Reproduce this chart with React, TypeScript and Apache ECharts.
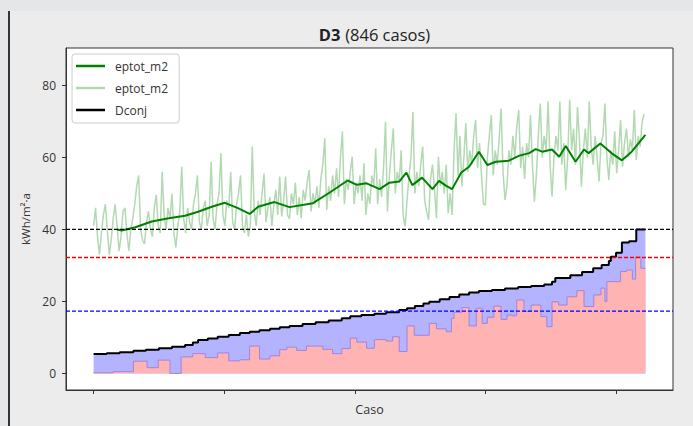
import React, { useEffect, useRef } from "react";
import * as echarts from "echarts";

// Lower bound of the stacked fill (red area top), step "post"
const redCases = [0, 30, 61, 82, 99, 117, 134, 152, 171, 190, 207, 224, 239, 254, 270, 285, 296, 311, 326, 351, 366, 380, 393, 403, 418, 430, 448, 458, 468, 480, 491, 514, 525, 540, 548, 552, 564, 575, 586, 595, 603, 613, 624, 633, 641, 648, 659, 670, 685, 694, 702, 712, 725, 740, 751, 766, 777, 783, 786, 807, 816, 825, 830, 838, 845];
const redVals = [0.2, 0.5, 3.4, 1.6, 3.7, 0, 4.6, 5.5, 4.4, 5.7, 3.5, 3.8, 7.6, 4.0, 4.9, 6.6, 7.3, 6.4, 7.6, 6.7, 5.5, 6.9, 9.8, 8.7, 7.0, 9.4, 9.0, 10.2, 6.1, 13.2, 10.6, 13.9, 12.4, 11.6, 15.3, 17.0, 18.3, 13.2, 18.1, 13.9, 15.6, 18.7, 15.0, 16.2, 16.0, 20.4, 17.2, 19.0, 15.8, 13.0, 19.9, 19.0, 21.3, 23.0, 18.6, 21.8, 23.7, 20.0, 25.5, 28.3, 28.7, 26.2, 32.4, 29.2, 29.2];

// Dconj step line
const conjCases = [0, 20, 40, 61, 80, 100, 120, 140, 152, 160, 175, 190, 207, 224, 239, 254, 270, 285, 300, 320, 340, 360, 380, 393, 410, 430, 448, 468, 480, 492, 505, 514, 530, 545, 560, 575, 590, 610, 630, 650, 670, 690, 702, 707, 730, 748, 765, 778, 789, 792, 800, 809, 820, 831, 845];
const conjVals = [5.4, 5.6, 5.9, 6.3, 6.6, 7.0, 7.4, 7.9, 8.6, 9.3, 9.7, 10.2, 10.7, 11.2, 11.6, 12.0, 12.4, 12.8, 13.2, 13.7, 14.2, 14.7, 15.3, 15.9, 16.2, 16.6, 17.0, 17.6, 18.1, 18.7, 19.4, 19.9, 20.6, 21.2, 21.9, 22.5, 22.9, 23.2, 23.6, 24.0, 24.3, 24.7, 25.5, 26.5, 27.3, 28.2, 29.2, 30.1, 31.2, 32.4, 33.5, 36.4, 36.7, 40.0, 40.0];

// eptot_m2 moving average
const avgCases = [36, 43, 64, 89, 115, 140, 160, 181, 201, 221, 239, 252, 277, 300, 336, 361, 389, 403, 418, 438, 453, 468, 479, 488, 503, 519, 529, 540, 549, 563, 575, 590, 603, 616, 636, 652, 667, 677, 687, 702, 713, 723, 738, 751, 758, 776, 793, 809, 824, 845];
const avgVals = [40.0, 39.7, 40.6, 42.2, 43.1, 43.8, 44.9, 46.3, 47.4, 45.9, 44.3, 46.3, 47.6, 46.2, 47.3, 50.2, 53.6, 52.4, 52.8, 51.2, 53.0, 53.3, 55.8, 52.3, 54.4, 51.2, 53.5, 52.1, 51.2, 55.8, 57.4, 61.6, 57.9, 58.8, 59.1, 60.5, 61.2, 62.3, 61.6, 62.2, 60.2, 63.2, 58.8, 62.2, 61.2, 63.9, 61.2, 59.2, 61.6, 66.3];

// eptot_m2 raw values, sampled every 3 cases
const rawStep = 3;
const rawVals = [
  41, 46, 38, 33, 39, 44, 47, 40, 33, 37, 43, 47, 41, 34, 38, 45, 46, 39, 34, 40,
  43, 47, 52, 55, 40, 37, 36, 42, 45, 40, 38, 46, 49.6, 41, 39, 56, 44, 40, 46, 43,
  50, 39, 35, 41, 45, 57.4, 43, 39, 46, 42, 40, 47, 50, 55, 42, 40, 46, 48, 41, 44,
  58.8, 43, 40, 47, 50, 61.2, 44, 41, 48, 46, 56, 42, 40, 47, 50, 55, 41, 39, 44, 38,
  41, 63, 45, 41, 48, 44, 50, 55.6, 42, 46, 49, 41, 47, 51, 44, 54.7, 43.6, 48, 54.7, 44,
  43, 50, 47, 53, 44, 49, 43.1, 51, 48, 53, 56.5, 45, 50, 47, 52, 46, 54, 58, 65.3, 45.4,
  52, 48, 55, 50, 57, 49, 60, 67.2, 47, 54, 51, 56, 60.2, 47, 53, 50, 55, 48, 58.4, 44,
  50, 47, 55, 52, 62.5, 47, 54, 49, 57, 69.9, 45, 55, 62, 68.1, 50, 56, 53, 62, 44, 40.8,
  48, 55, 60, 72.7, 50, 56, 52, 58, 63, 48, 45, 42.6, 54, 58, 51, 43.1, 60.2, 52, 56, 50,
  58, 44.5, 50, 44, 62, 72.3, 55, 66, 52, 60, 69.5, 56, 62, 58, 66, 70.4, 57, 64, 55, 47,
  46.8, 60, 66, 71.8, 55, 62, 58, 65, 73.6, 56, 48.2, 52, 62, 58, 66, 60, 68.6, 73.2, 57, 63,
  54, 64, 60, 71.8, 58, 47.7, 55, 66, 75, 60, 66, 62, 75.5, 58, 49.1, 60, 66, 62, 75.5, 58,
  64, 51, 60, 76, 62, 68, 58, 74, 65, 51.9, 62, 68, 60, 75.5, 63, 58, 66, 60, 53.3, 64,
  66, 75, 60, 53.7, 62, 58, 67.2, 55.6, 62, 70.4, 57.4, 64, 68, 60, 65, 62, 73.2, 59.3, 66, 63,
  70, 72,
];

const yTicks = [0, 20, 40, 60, 80];
const xTicks = [0, 200, 400, 600, 800];
const xMin = -42.25;
const xMax = 887.25;
const yMin = -4.6;
const yMax = 90.4;
const refLines = [
  { value: 40, color: "#000000" },
  { value: 32.2, color: "#ff0000" },
  { value: 17.3, color: "#0000ff" },
];

const pairs = (xs: number[], ys: number[]) => xs.map((x, i) => [x, ys[i]]);

export default function App() {
  const ref = useRef<HTMLDivElement>(null);
  useEffect(() => {
    const chart = echarts.init(ref.current as HTMLDivElement, null, { renderer: "svg" });
    const conj = pairs(conjCases, conjVals);
    const red = pairs(redCases, redVals);
    const raw = rawVals.map((v, i) => [i * rawStep, v]);
    const avg = pairs(avgCases, avgVals);
    const refSeries = refLines.map((r, k) => ({
      type: "line",
      name: "ref" + k,
      data: [
        [xMin, r.value],
        [xMax, r.value],
      ],
      symbol: "none",
      silent: true,
      z: 10,
      lineStyle: { color: r.color, type: [4, 2], width: 1.3 },
      itemStyle: { color: r.color },
    }));
    chart.setOption({
      animation: false,
      textStyle: { fontFamily: "Open Sans" },
      title: {
        text: "{b|D3} {r|(846 casos)}",
        left: 369.5,
        top: 20,
        textAlign: "center",
        textStyle: {
          fontWeight: "normal",
          rich: {
            b: { fontSize: 16.5, fontWeight: "bold", color: "#222", fontFamily: "Open Sans" },
            r: { fontSize: 16.5, fontWeight: "normal", color: "#222", fontFamily: "Open Sans" },
          },
        },
      },
      legend: {
        orient: "vertical",
        left: 72,
        top: 54,
        padding: [5, 8, 6, 4],
        itemGap: 8,
        itemWidth: 29,
        itemHeight: 2.5,
        icon: "rect",
        backgroundColor: "rgba(255,255,255,0.85)",
        borderColor: "#cccccc",
        borderWidth: 1,
        borderRadius: 3,
        textStyle: { fontSize: 12, color: "#333", padding: [0, 0, 0, 5], lineHeight: 14 },
        data: [
          { name: "eptot_m2", itemStyle: { color: "#008000" } },
          { name: "eptot_m2 ", itemStyle: { color: "#b3d9b3" } },
          { name: "Dconj", itemStyle: { color: "#000000" } },
        ],
      },
      grid: {
        left: 66,
        top: 48,
        right: 20,
        bottom: 36,
        show: true,
        backgroundColor: "#ffffff",
        borderColor: "#333333",
        borderWidth: 1,
      },
      xAxis: {
        type: "value",
        min: xMin,
        max: xMax,
        name: "Caso",
        nameLocation: "middle",
        nameGap: 13,
        nameTextStyle: { fontSize: 12.5, color: "#333", verticalAlign: "top" },
        axisLine: { show: true, onZero: false, lineStyle: { color: "#333", width: 1 } },
        axisTick: { show: true, customValues: xTicks, length: 4, lineStyle: { color: "#333" } },
        axisLabel: { show: false },
        splitLine: { show: false },
      },
      yAxis: {
        type: "value",
        min: yMin,
        max: yMax,
        name: "kWh/m²·a",
        nameLocation: "middle",
        nameGap: 33,
        nameTextStyle: { fontSize: 11.5, color: "#333" },
        axisLine: { show: true, onZero: false, lineStyle: { color: "#333", width: 1 } },
        axisTick: { show: true, customValues: yTicks, length: 4, lineStyle: { color: "#333" } },
        axisLabel: { show: true, customValues: yTicks, fontSize: 12, color: "#333", margin: 10 },
        splitLine: { show: false },
      },
      series: [
        {
          type: "line",
          name: "conjFill",
          data: conj,
          step: "end",
          symbol: "none",
          silent: true,
          lineStyle: { width: 0, opacity: 0 },
          areaStyle: { color: "#b3b3ff", opacity: 1 },
          z: 1,
        },
        {
          type: "line",
          name: "redFill",
          data: red,
          step: "end",
          symbol: "none",
          silent: true,
          lineStyle: { color: "#a284dc", width: 1 },
          areaStyle: { color: "#ffb3b3", opacity: 1 },
          z: 2,
        },
        {
          type: "line",
          name: "eptot_m2 ",
          data: raw,
          symbol: "none",
          silent: true,
          lineStyle: { color: "rgba(0,128,0,0.3)", width: 1.5 },
          itemStyle: { color: "#b3d9b3" },
          z: 3,
        },
        {
          type: "line",
          name: "eptot_m2",
          data: avg,
          symbol: "none",
          silent: true,
          lineStyle: { color: "#008000", width: 2 },
          itemStyle: { color: "#008000" },
          z: 4,
        },
        {
          type: "line",
          name: "Dconj",
          data: conj,
          step: "end",
          symbol: "none",
          silent: true,
          lineStyle: { color: "#000000", width: 2 },
          itemStyle: { color: "#000000" },
          z: 5,
        },
        ...refSeries,
      ],
    });
    return () => chart.dispose();
  }, []);
  return (
    <div style={{ position: "absolute", left: 0, top: 0, width: 693, height: 426, background: "#e5e6e7", overflow: "hidden" }}>
      <div
        style={{
          position: "absolute",
          left: 8,
          top: 11,
          width: 685,
          height: 415,
          background: "#ececec",
          borderLeft: "2px solid #333",
          boxSizing: "border-box",
        }}
      />
      <div ref={ref} style={{ position: "absolute", left: 0, top: 0, width: 693, height: 426 }} />
    </div>
  );
}
